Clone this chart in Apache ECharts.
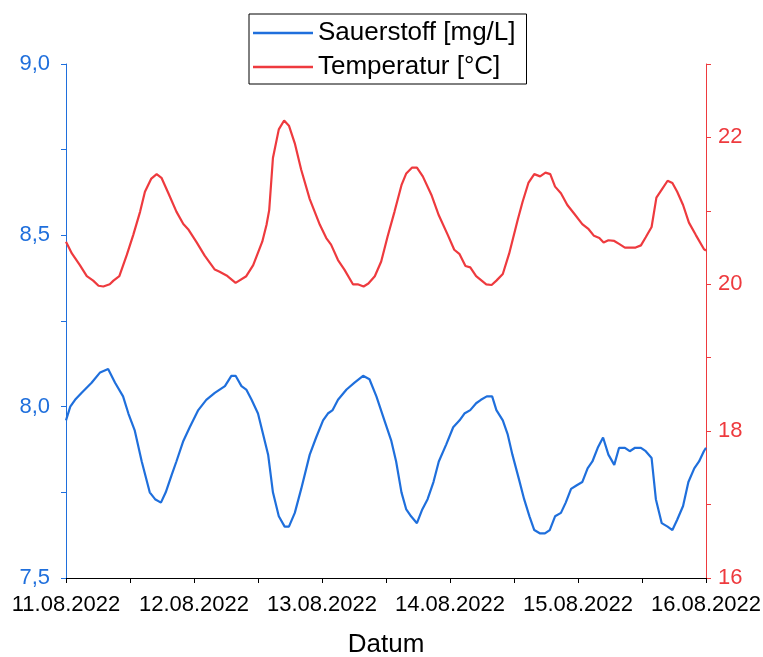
<!DOCTYPE html>
<html>
<head>
<meta charset="utf-8">
<script src="https://cdn.jsdelivr.net/npm/echarts@6/dist/echarts.min.js"></script>
<style>
    html, body { margin: 0; padding: 0; background: #fff; }
    #chart { width: 763px; height: 657px; }
</style>
</head>
<body>
<div id="chart"></div>
<script>
// Tageslabels der x-Achse (alle 24 Stunden)
const dateLabels = ['11.08.2022', '12.08.2022', '13.08.2022', '14.08.2022', '15.08.2022', '16.08.2022'];

// Sauerstoff: Stunden seit 11.08.2022 00:00 und Werte in mg/L
const o2Hours = [0, 0.8, 1.7, 2.9, 4.8, 6.4, 7.9, 9.2, 10.7, 11.7, 12.9, 14.2, 15.7, 16.7, 17.8, 18.7, 19.8, 20.7, 22.0, 23.2,
    24.8, 26.3, 27.9, 29.8, 31.0, 31.8, 32.9, 33.8, 34.8, 36.0, 37.9, 38.8, 39.9, 41.0, 41.8, 42.9, 44.1, 45.7, 46.9, 48.2,
    49.1, 50.0, 51.0, 52.6, 54.1, 55.7, 56.9, 58.2, 59.7, 61.0, 61.9, 62.9, 63.8, 64.7, 65.8, 66.8, 67.8, 68.9, 69.9, 71.3,
    72.6, 73.8, 74.7, 75.8, 76.9, 77.8, 78.9, 79.9, 80.7, 81.9, 82.8, 83.7, 84.9, 85.9, 86.9, 87.8, 88.9, 89.8, 90.7, 91.7,
    92.8, 93.7, 94.7, 95.7, 96.8, 97.8, 98.7, 99.7, 100.7, 101.7, 102.8, 103.7, 104.8, 105.7, 106.7, 107.8, 108.7, 109.8,
    110.6, 111.7, 112.8, 113.7, 114.6, 115.7, 116.7, 117.8, 118.7, 119.6, 120];
const o2Values = [7.96, 8.00, 8.02, 8.04, 8.07, 8.10, 8.11, 8.07, 8.03, 7.98, 7.93, 7.84, 7.75, 7.73, 7.72, 7.75, 7.80, 7.84, 7.90, 7.94,
    7.99, 8.02, 8.04, 8.06, 8.09, 8.09, 8.06, 8.05, 8.02, 7.98, 7.86, 7.75, 7.68, 7.65, 7.65, 7.69, 7.76, 7.86, 7.91, 7.96,
    7.98, 7.99, 8.02, 8.05, 8.07, 8.09, 8.08, 8.03, 7.96, 7.90, 7.84, 7.75, 7.70, 7.68, 7.66, 7.70, 7.73, 7.78, 7.84, 7.89,
    7.94, 7.96, 7.98, 7.99, 8.01, 8.02, 8.03, 8.03, 7.99, 7.96, 7.92, 7.86, 7.79, 7.73, 7.68, 7.64, 7.63, 7.63, 7.64, 7.68,
    7.69, 7.72, 7.76, 7.77, 7.78, 7.82, 7.84, 7.88, 7.91, 7.86, 7.83, 7.88, 7.88, 7.87, 7.88, 7.88, 7.87, 7.85,
    7.73, 7.66, 7.65, 7.64, 7.67, 7.71, 7.78, 7.82, 7.84, 7.87, 7.88];

// Temperatur: Stunden und Werte in °C
const tempHours = [0, 1.1, 2.6, 3.9, 5.1, 6.1, 7.0, 8.2, 8.9, 10.0, 11.4, 12.6, 13.9, 14.8, 16.0, 17.0, 17.9, 19.2, 20.7, 22.0,
    22.9, 24.5, 26.0, 27.9, 28.8, 30.1, 31.8, 33.8, 35.1, 36.8, 37.6, 38.1, 38.8, 39.9, 40.9, 41.8, 42.9, 44.1, 45.7, 47.6,
    48.8, 49.7, 51.0, 52.2, 53.8, 54.7, 55.8, 56.7, 57.9, 59.1, 60.3, 61.6, 62.9, 63.8, 64.9, 65.8, 66.9, 68.5, 69.9, 71.6,
    72.8, 73.8, 74.9, 75.8, 76.9, 78.8, 79.8, 80.7, 81.9, 83.1, 84.7, 85.6, 86.7, 87.8, 88.9, 89.9, 90.8, 91.7, 92.8, 94.0,
    95.3, 96.8, 98.0, 99.0, 100.0, 100.8, 101.7, 102.8, 103.7, 104.8, 106.8, 107.8, 108.7, 109.8, 110.7, 111.7, 112.8, 113.7,
    114.6, 115.7, 116.8, 118.1, 119.6, 120];
const tempValues = [20.58, 20.42, 20.26, 20.11, 20.05, 19.98, 19.97, 20.00, 20.05, 20.11, 20.40, 20.67, 20.99, 21.26, 21.44, 21.50, 21.45, 21.24, 20.99, 20.82,
    20.75, 20.57, 20.39, 20.20, 20.17, 20.12, 20.02, 20.11, 20.26, 20.58, 20.81, 21.01, 21.72, 22.11, 22.23, 22.16, 21.92, 21.56, 21.16, 20.81,
    20.63, 20.54, 20.33, 20.20, 20.00, 20.00, 19.97, 20.01, 20.11, 20.31, 20.65, 20.99, 21.35, 21.51, 21.59, 21.59, 21.47, 21.22, 20.94, 20.67,
    20.47, 20.41, 20.25, 20.23, 20.11, 20.00, 19.99, 20.05, 20.14, 20.42, 20.88, 21.12, 21.38, 21.50, 21.47, 21.52, 21.50, 21.33, 21.24, 21.08,
    20.96, 20.82, 20.75, 20.66, 20.63, 20.57, 20.60, 20.59, 20.55, 20.50, 20.50, 20.53, 20.64, 20.78, 21.18, 21.29, 21.41, 21.38,
    21.26, 21.08, 20.84, 20.67, 20.48, 20.46];

const blue = '#1f6fdc';
const red = '#ee3a3e';
const font = 'Liberation Sans, Arial, sans-serif';

document.addEventListener('DOMContentLoaded', function() {
    const chart = echarts.init(document.getElementById('chart'));

    const o2Data = o2Hours.map((h, i) => [h, o2Values[i]]);
    const tempData = tempHours.map((h, i) => [h, tempValues[i]]);

    chart.setOption({
        animation: false,
        backgroundColor: '#fff',
        textStyle: { fontFamily: font },
        grid: {
            left: 66,
            right: 57,
            top: 64,
            bottom: 79,
            outerBoundsMode: 'none'
        },
        legend: {
            orient: 'vertical',
            left: 249,
            top: 14,
            padding: [6, 11, 4, 4],
            itemGap: 8,
            itemWidth: 60,
            itemHeight: 2.5,
            icon: 'rect',
            borderColor: '#000',
            borderWidth: 1,
            textStyle: { fontSize: 26, color: '#000', fontFamily: font },
            data: ['Sauerstoff [mg/L]', 'Temperatur [°C]']
        },
        xAxis: {
            type: 'value',
            min: 0,
            max: 120,
            interval: 12,
            name: 'Datum',
            nameLocation: 'middle',
            nameGap: 54,
            nameTextStyle: { fontSize: 26, color: '#000', fontFamily: font },
            axisLine: { lineStyle: { color: '#000', width: 1 } },
            axisTick: { show: true, length: 5, lineStyle: { color: '#000' } },
            axisLabel: {
                fontSize: 22,
                color: '#000',
                margin: 16,
                fontFamily: font,
                formatter: function(v) {
                    return v % 24 === 0 ? dateLabels[v / 24] : '';
                }
            },
            splitLine: { show: false }
        },
        yAxis: [{
            type: 'value',
            position: 'left',
            min: 7.5,
            max: 9,
            interval: 0.25,
            axisLine: { show: true, lineStyle: { color: blue, width: 1 } },
            axisTick: { show: true, length: 5, lineStyle: { color: blue } },
            axisLabel: {
                fontSize: 22,
                color: blue,
                margin: 16,
                fontFamily: font,
                formatter: function(v) {
                    return Math.abs(v * 2 - Math.round(v * 2)) < 1e-9 ? v.toFixed(1).replace('.', ',') : '';
                }
            },
            splitLine: { show: false }
        }, {
            type: 'value',
            position: 'right',
            min: 16,
            max: 23,
            interval: 1,
            axisLine: { show: true, lineStyle: { color: red, width: 1 } },
            axisTick: { show: true, length: 5, lineStyle: { color: red } },
            axisLabel: {
                fontSize: 22,
                color: red,
                margin: 12,
                fontFamily: font,
                formatter: function(v) {
                    return v % 2 === 0 ? String(v) : '';
                }
            },
            splitLine: { show: false }
        }],
        series: [{
            name: 'Sauerstoff [mg/L]',
            type: 'line',
            yAxisIndex: 0,
            data: o2Data,
            symbol: 'none',
            lineStyle: { color: blue, width: 2.2 },
            itemStyle: { color: blue }
        }, {
            name: 'Temperatur [°C]',
            type: 'line',
            yAxisIndex: 1,
            data: tempData,
            symbol: 'none',
            lineStyle: { color: red, width: 2.2 },
            itemStyle: { color: red }
        }]
    });
});
</script>
</body>
</html>
